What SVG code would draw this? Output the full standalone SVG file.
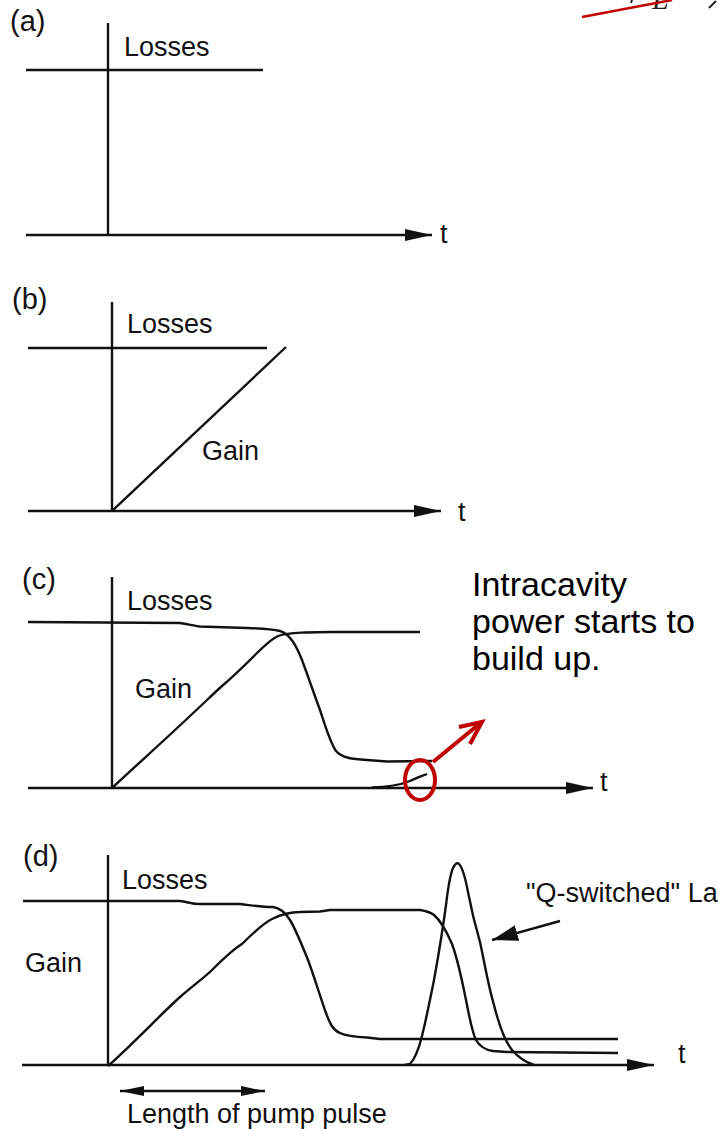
<svg xmlns="http://www.w3.org/2000/svg" width="718" height="1129" viewBox="0 0 718 1129">
<style>
.ln{fill:none;stroke:#111;stroke-width:2.4;stroke-linejoin:round;stroke-linecap:butt}
.lbl{font-family:"Liberation Sans",Arial,sans-serif;font-size:27px;fill:#111}
.pl{font-family:"Liberation Sans",Arial,sans-serif;font-size:29px;fill:#111}
.big{font-family:"Liberation Sans",Arial,sans-serif;font-size:34px;fill:#000}
.red{fill:none;stroke:#c00000;stroke-width:4}
</style>
<defs>
<marker id="ah" viewBox="0 0 27 12" refX="27" refY="6" markerWidth="27" markerHeight="12" markerUnits="userSpaceOnUse" orient="auto">
<path d="M0,0 L27,6 L0,12 Z" fill="#111"/>
</marker>
<marker id="ah2" viewBox="0 0 24 10" refX="24" refY="5" markerWidth="24" markerHeight="10" markerUnits="userSpaceOnUse" orient="auto-start-reverse">
<path d="M0,0 L24,5 L0,10 Z" fill="#111"/>
</marker>
<marker id="ahq" viewBox="0 0 26 16" refX="26" refY="8" markerWidth="26" markerHeight="16" markerUnits="userSpaceOnUse" orient="auto">
<path d="M0,0 L26,8 L0,16 Z" fill="#111"/>
</marker>
</defs>

<!-- top-right clipped fragment -->
<g id="fragment">
<text x="652" y="9" font-family="Liberation Serif,serif" font-style="italic" font-size="30" fill="#222">L</text>
<line x1="632" y1="0" x2="631" y2="3" stroke="#222" stroke-width="2"/>
<line x1="709" y1="8" x2="716" y2="1" stroke="#222" stroke-width="2"/>
<line x1="582" y1="17" x2="672" y2="0" stroke="#c00000" stroke-width="2.5"/>
</g>

<!-- Panel (a) -->
<g id="panel-a">
<text class="pl" x="10" y="31">(a)</text>
<line class="ln" x1="108" y1="23" x2="108" y2="235"/>
<line class="ln" x1="26" y1="70" x2="263" y2="70"/>
<text class="lbl" x="124" y="56">Losses</text>
<text class="lbl" x="440" y="243">t</text>
</g>

<!-- Panel (b) -->
<g id="panel-b">
<text class="pl" x="12" y="309">(b)</text>
<line class="ln" x1="112" y1="302" x2="112" y2="511"/>
<line class="ln" x1="28" y1="348" x2="267" y2="348"/>
<line class="ln" x1="112" y1="511" x2="286" y2="347"/>
<text class="lbl" x="127" y="333">Losses</text>
<text class="lbl" x="202" y="460">Gain</text>
<text class="lbl" x="458" y="521">t</text>
</g>

<!-- Panel (c) -->
<g id="panel-c">
<text class="pl" x="22" y="589">(c)</text>
<line class="ln" x1="112" y1="577" x2="112" y2="788"/>
<text class="lbl" x="127" y="610">Losses</text>
<text class="lbl" x="135" y="698">Gain</text>
<text class="lbl" x="600" y="791">t</text>
<path id="c-losses" class="ln" d="M28,622 L180,623 C188,624 194,626 200,626.5 L247,628 C262,628.5 272,629 280,631 C290,634 296,645 302,660 C308,676 314,694 320,710 C326,728 330,742 336,751 C342,758 352,759 367,760 L387,761.5 L432,761"/>
<path id="c-gain" class="ln" d="M112,788 C140,762 170,735 190,716 C202,705 212,695 222,686 C236,674 246,664 256,654 C264,646 270,640 278,636 C286,633 294,633 305,632.5 L330,632 L420,632"/>
<path id="c-pulse" class="ln" d="M372,787.5 C390,787 400,785 410,781 C416,778 422,776 427,774"/>
<text class="big" x="472" y="596">Intracavity</text>
<text class="big" x="472" y="633">power starts to</text>
<text class="big" x="472" y="670">build up.</text>
</g>

<!-- Panel (d) -->
<g id="panel-d">
<text class="pl" x="23" y="866">(d)</text>
<line class="ln" x1="108" y1="855" x2="108" y2="1065"/>
<text class="lbl" x="122" y="889">Losses</text>
<text class="lbl" x="25" y="972">Gain</text>
<text class="lbl" x="678" y="1063">t</text>
<path id="d-losses" class="ln" d="M23,901 L180,901 C188,902 192,904 200,904 L240,904 C250,905 260,907 273,907 C280,908 285,912 290,920 C296,930 302,945 308,960 C314,976 320,996 326,1013 C330,1024 333,1030 340,1033 C346,1036 356,1037 367,1037.5 L380,1039 L618,1039"/>
<path id="d-gain" class="ln" d="M108,1066 C135,1042 160,1015 180,997 C195,984 205,977 212,970 C222,960 232,950 242,944 C252,934 262,924 272,919 C282,914 290,912 300,912 L320,911.5 L330,910 L420,910 C426,911 430,912 434,915 C440,920 446,930 452,944 C458,960 462,980 466,1000 C470,1020 472,1032 476,1040 C480,1047 486,1050 493,1051 L507,1052 L618,1053"/>
<path id="d-pulse" class="ln" d="M405,1065 L410,1064 C416,1058 419,1048 422,1036 C426,1020 430,1000 434,980 C438,958 442,935 446,905 C448,888 450,875 453,868 C455,864 457,862 459,864 C462,867 465,876 468,892 C471,908 475,925 480,942 C484,960 488,985 494,1005 C499,1025 504,1040 512,1050 C518,1057 525,1062 534,1065"/>
<text class="lbl" x="526" y="902">"Q-switched" La</text>
<text class="lbl" x="127" y="1123">Length of pump pulse</text>
</g>

<!-- connectors / axes -->
<g id="connectors">
<line class="ln" x1="26" y1="235" x2="432" y2="235" marker-end="url(#ah)"/>
<line class="ln" x1="28" y1="511" x2="441" y2="511" marker-end="url(#ah)"/>
<line class="ln" x1="28" y1="788" x2="593" y2="788" marker-end="url(#ah)"/>
<line class="ln" x1="22" y1="1065" x2="654" y2="1065" marker-end="url(#ah)"/>
<line class="ln" x1="560" y1="921" x2="492" y2="940" marker-end="url(#ahq)"/>
<line class="ln" x1="120" y1="1091" x2="265" y2="1091" marker-start="url(#ah2)" marker-end="url(#ah2)"/>
<ellipse class="red" cx="420" cy="780" rx="15" ry="20"/>
<line x1="433" y1="762" x2="478" y2="725" stroke="#c00000" stroke-width="4"/>
<polyline points="459,727 482,722 470,744" fill="none" stroke="#c00000" stroke-width="4" stroke-linejoin="miter"/>
</g>
</svg>
